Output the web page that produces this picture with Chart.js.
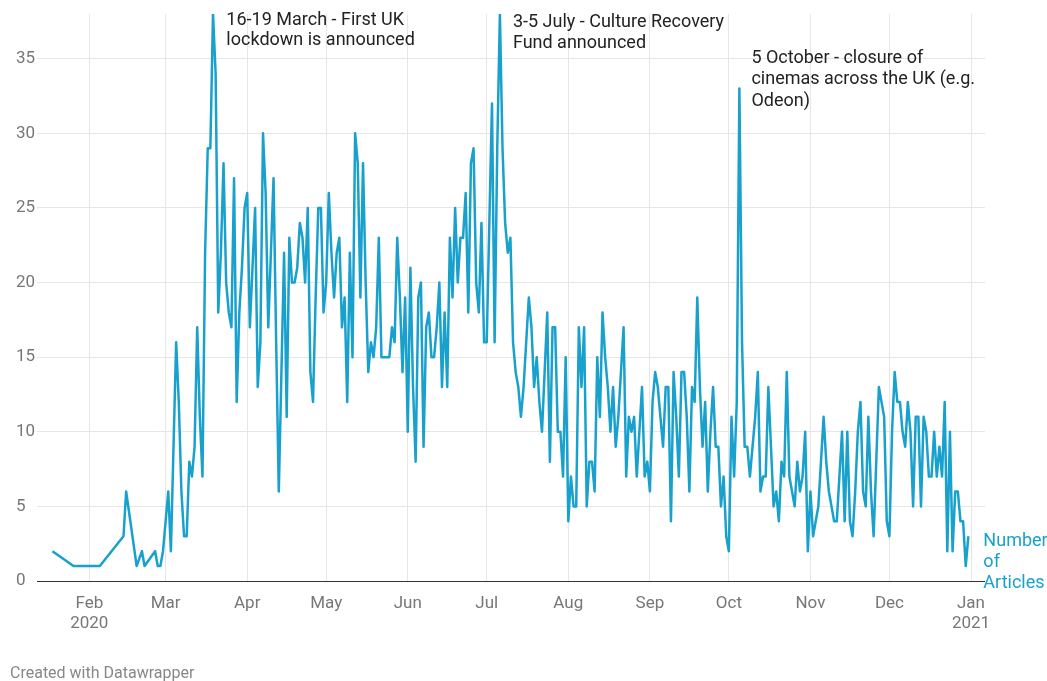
<!DOCTYPE html>
<html><head><meta charset="utf-8">
<script src="https://cdn.jsdelivr.net/npm/chart.js@4"></script>
<style>
html,body{margin:0;padding:0;background:#fff;}
#wrap{position:relative;width:1047px;height:681px;overflow:hidden;}
#footer{position:absolute;left:10px;top:663px;font:16px Roboto,sans-serif;color:#888;line-height:20px;}
</style></head><body>
<div id="wrap"><canvas id="c" width="1047" height="681"></canvas><div id="footer">Created with Datawrapper</div></div>
<script>
// ---- data ----
const sparseDates  = ['2020-01-18','2020-01-26','2020-02-05','2020-02-14','2020-02-15','2020-02-19','2020-02-21','2020-02-22'];
const sparseValues = [2,1,1,3,6,1,2,1];
const dailyStart = '2020-02-26';
const dailyValues = [
 2,1,1,2,null,6,2,9,16,12,
 6,3,3,8,7,9,17,11,7,22,
 29,29,38,34,18,22,28,20,18,17,
 27,12,18,21,25,26,17,21,25,13,
 16,30,26,17,22,27,16,6,14,22,
 11,23,20,20,21,24,23,20,25,14,
 12,19,25,25,18,20,26,22,19,22,
 23,17,19,12,22,15,30,28,19,28,
 20,14,16,15,17,23,15,15,15,15,
 17,16,23,19,14,19,10,21,13,8,
 19,20,9,17,18,15,15,17,20,13,
 18,13,23,19,25,20,23,23,26,18,
 28,29,20,18,24,16,16,24,32,16,
 29,38,29,24,22,23,16,14,13,11,
 13,16,19,17,13,15,12,10,14,18,
 8,17,17,10,10,7,15,4,7,5,
 5,17,13,17,5,8,8,6,15,11,
 18,15,13,10,13,9,11,14,17,7,
 11,10,11,7,10,13,7,8,6,12,
 14,13,11,9,13,13,4,14,11,7,
 14,14,11,6,13,12,19,13,9,12,
 6,10,13,9,9,5,7,3,2,11,
 7,12,33,16,9,9,7,9,11,14,
 6,7,7,13,9,5,6,4,8,7,
 14,7,6,5,8,6,7,10,2,6,
 3,4,5,8,11,8,6,5,4,4,
 7,10,4,10,4,3,6,10,12,6,
 5,11,6,3,8,13,12,11,4,3,
 10,14,12,12,10,9,12,10,5,11,
 11,5,11,10,7,7,10,7,9,7,
 12,2,10,2,6,6,4,4,1,3
];
const monthStarts = ['2020-02-01','2020-03-01','2020-04-01','2020-05-01','2020-06-01','2020-07-01','2020-08-01','2020-09-01','2020-10-01','2020-11-01','2020-12-01','2021-01-01'];
const monthLabels = ['Feb','Mar','Apr','May','Jun','Jul','Aug','Sep','Oct','Nov','Dec','Jan'];
const yearLabels  = ['2020','','','','','','','','','','','2021'];
const yTicks = [0,5,10,15,20,25,30,35];
const seriesLabel = ['Number','of','Articles'];
const annotations = [
  {date:'2020-03-18', lines:['16-19 March - First UK','lockdown is announced']},
  {date:'2020-07-06', lines:['3-5 July - Culture Recovery','Fund announced']},
  {date:'2020-10-05', lines:['5 October - closure of','cinemas across the UK (e.g.','Odeon)']}
];

// ---- helpers ----
const BASE = Date.UTC(2020,1,1);
function dayNum(s){const p=s.split('-').map(Number);return (Date.UTC(p[0],p[1]-1,p[2])-BASE)/86400000;}
const points = [];
sparseDates.forEach((d,i)=>points.push({x:dayNum(d),y:sparseValues[i]}));
const d0 = dayNum(dailyStart);
dailyValues.forEach((v,i)=>points.push({x:d0+i,y:v}));
const monthDays = monthStarts.map(dayNum);

const BLUE = '#18a1cd';
const FONT = 'Roboto';

// layout in pixels
const LABEL_LEFT = 16;
const PLOT_LEFT = 37, PLOT_RIGHT = 985, PLOT_TOP = 14, PLOT_BOTTOM = 581;
const PX_PER_DAY = (971 - 89.3) / 335;
const xMin = monthDays[0] - (89.3 - PLOT_LEFT) / PX_PER_DAY;
const xMax = monthDays[0] + (PLOT_RIGHT - 89.3) / PX_PER_DAY;

const annotPlugin = {
  id:'annot',
  afterDatasetsDraw(chart){
    const ctx = chart.ctx, xs = chart.scales.x, ys = chart.scales.y;
    ctx.save();
    ctx.font = '18px ' + FONT;
    ctx.fillStyle = '#222';
    ctx.textBaseline = 'middle';
    ctx.textAlign = 'left';
    const conf = [{dx:16, y0:20, lh:20.5},{dx:13, y0:22, lh:21},{dx:12, y0:58, lh:21.5}];
    annotations.forEach((a,i)=>{
      const x = xs.getPixelForValue(dayNum(a.date)) + conf[i].dx;
      a.lines.forEach((t,j)=>ctx.fillText(t, x, conf[i].y0 + j*conf[i].lh));
    });
    // series label
    const last = points[points.length-1];
    const lx = xs.getPixelForValue(last.x) + 15;
    const ly = ys.getPixelForValue(last.y) + 5;
    ctx.fillStyle = BLUE;
    seriesLabel.forEach((t,j)=>ctx.fillText(t, lx, ly + j*21));
    ctx.restore();
  }
};

new Chart(document.getElementById('c'), {
  type:'line',
  data:{datasets:[{data:points, borderColor:BLUE, borderWidth:2.5, pointRadius:0, tension:0, spanGaps:true, fill:false, borderJoinStyle:'round'}]},
  options:{
    responsive:false, animation:false, devicePixelRatio:1,
    layout:{padding:{left:LABEL_LEFT, right:1047-PLOT_RIGHT, top:PLOT_TOP, bottom:0}},
    plugins:{legend:{display:false}, tooltip:{enabled:false}},
    scales:{
      x:{type:'linear', min:xMin, max:xMax,
        afterBuildTicks(s){ s.ticks = monthDays.map(v=>({value:v})); },
        afterFit(s){ s.height = 681 - PLOT_BOTTOM; },
        ticks:{autoSkip:false, maxRotation:0, padding:13, color:'#777', font:{family:FONT, size:17, lineHeight:1.18},
          callback(v, i){ return yearLabels[i] ? [monthLabels[i], yearLabels[i]] : monthLabels[i]; }},
        grid:{color:'#e6e6e6', lineWidth:1, drawTicks:false},
        border:{display:false}
      },
      y:{min:0, max:38,
        afterBuildTicks(s){ s.ticks = yTicks.map(v=>({value:v})); },
        afterFit(s){ s.width = PLOT_LEFT - LABEL_LEFT; },
        ticks:{padding:0, crossAlign:'far', color:'#777', font:{family:FONT, size:17}},
        grid:{color:(c)=> c.tick && c.tick.value===0 ? '#333' : '#e6e6e6', lineWidth:1, drawTicks:false},
        border:{display:false}
      }
    }
  },
  plugins:[annotPlugin]
});
</script>
</body></html>
